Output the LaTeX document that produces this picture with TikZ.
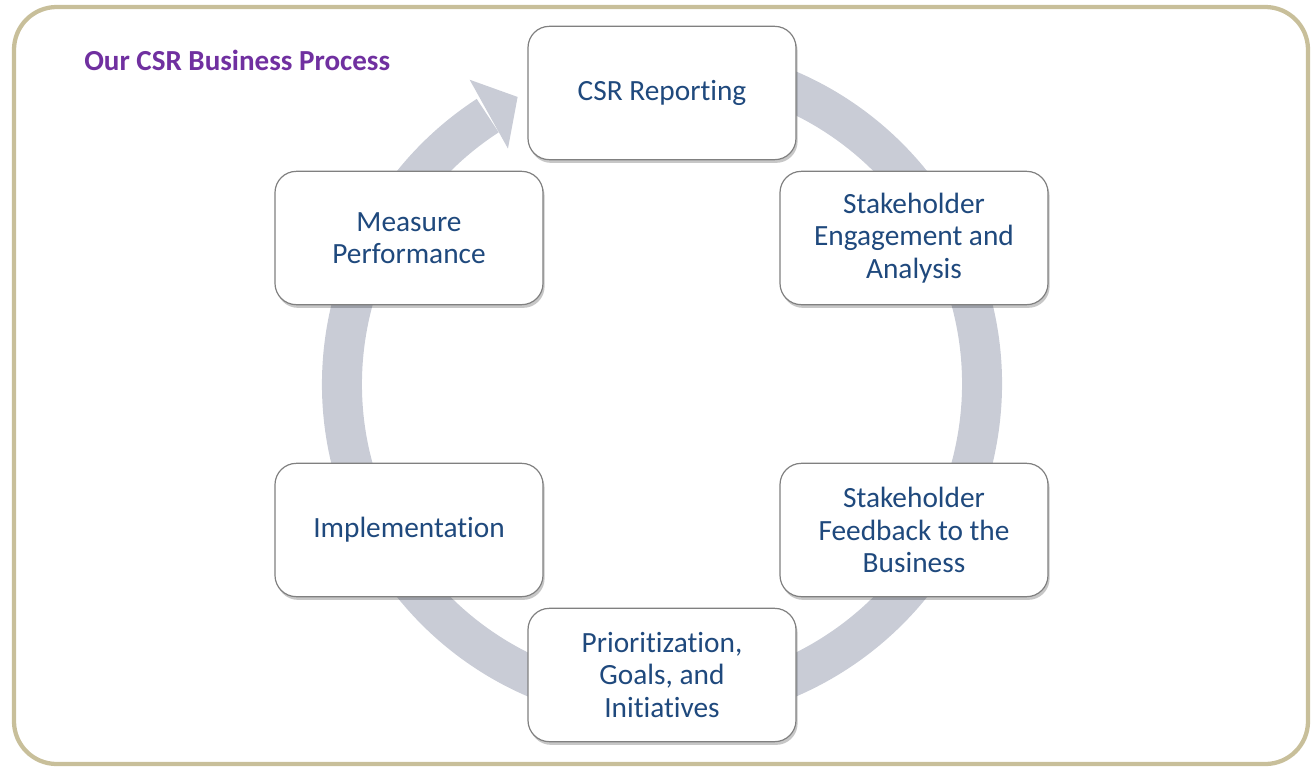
\documentclass[tikz,border=0pt]{standalone}
\usepackage{fontspec}
\setmainfont{Carlito}[RawFeature={-liga;-clig;-calt;-dlig;-rlig}]
\usetikzlibrary{shadows}
\definecolor{ringcol}{RGB}{201,204,214}
\definecolor{framecol}{RGB}{200,191,154}
\definecolor{boxtext}{RGB}{31,73,125}
\definecolor{boxline}{RGB}{128,128,128}
\definecolor{titlecol}{RGB}{112,48,160}
\begin{document}
\begin{tikzpicture}[x=0.75pt,y=-0.75pt,
  stepbox/.style={rectangle, rounded corners=16pt, draw=boxline, line width=0.9pt,
    fill=white, text=boxtext, align=center, minimum width=201pt, minimum height=100pt,
    inner sep=2pt, font=\fontsize{22}{24.4}\selectfont,
    drop shadow={shadow xshift=1.2pt, shadow yshift=-2.4pt, opacity=0.22, fill=black}},
  ring/.style={draw=ringcol, line width=30pt}]
\useasboundingbox (0,0) rectangle (1314,768);
% frame
\draw[framecol, line width=3.2pt, rounded corners=32pt] (14,7) rectangle (1308,764);
% title
\node[anchor=west, text=titlecol, font=\fontsize{21.8}{24}\selectfont\bfseries, inner sep=0pt] (title) at (84,60) {Our CSR Business Process};
% ring
\coordinate (c) at (662,384);
\draw[ring] ([shift={(c)}]80:240pt) arc[start angle=80, end angle=-237, radius=240pt];
\fill[ringcol] ([shift={(c)}]122.3:270pt) -- ([shift={(c)}]116.7:241pt) -- ([shift={(c)}]123.2:211pt) -- cycle;
% boxes
\node[stepbox] (rep) at (662,93) {CSR Reporting};
\node[stepbox] (eng) at (914,238) {Stakeholder\\Engagement and\\Analysis};
\node[stepbox] (fb) at (914,530) {Stakeholder\\Feedback to the\\Business};
\node[stepbox] (pri) at (662,675) {Prioritization,\\Goals, and\\Initiatives};
\node[stepbox] (imp) at (409,530) {Implementation};
\node[stepbox] (mea) at (409,238) {Measure\\Performance};
\end{tikzpicture}
\end{document}
